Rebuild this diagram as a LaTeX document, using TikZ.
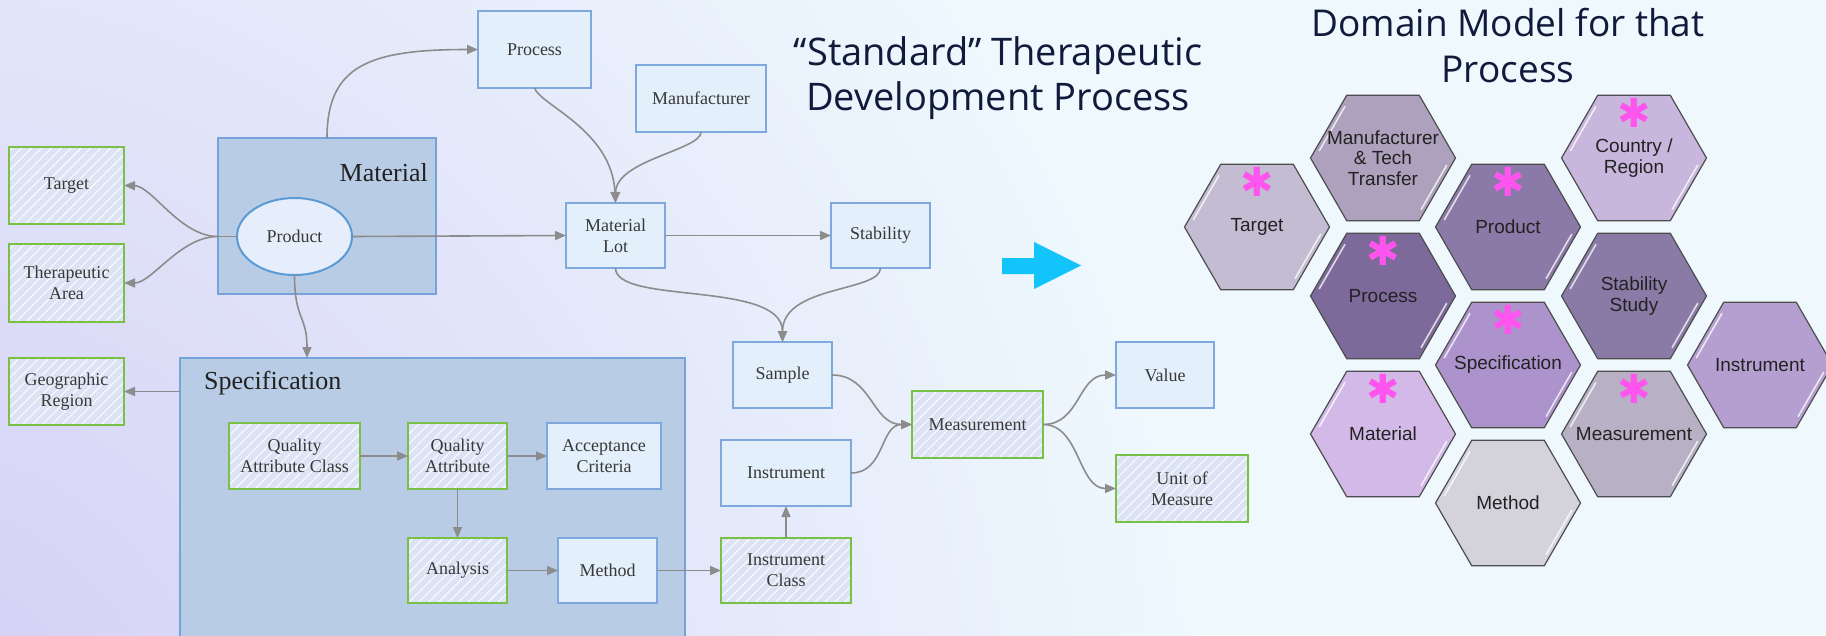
\documentclass[tikz,border=0pt]{standalone}
\usepackage{fontspec}
\setmainfont{Liberation Serif}
\newfontfamily\hexfamily{Liberation Sans}
\newfontfamily\titlefamily{Open Sans}
\newfontfamily\starfamily{DejaVu Sans}
\usetikzlibrary{shapes.geometric,arrows.meta,patterns.meta,calc}
\definecolor{bgmain}{HTML}{EEF8FD}
\definecolor{bglav}{HTML}{D3CDF5}
\definecolor{boxblue}{HTML}{7FA8DE}
\definecolor{boxfill}{HTML}{E3F0FB}
\definecolor{boxgreen}{HTML}{78C144}
\definecolor{hatchbg}{HTML}{DCE3F4}
\definecolor{contblue}{HTML}{75A3DA}
\definecolor{contfill}{HTML}{B8CCE5}
\definecolor{ellfill}{HTML}{E5EEFA}
\definecolor{ellblue}{HTML}{5B9BD5}
\definecolor{edgegray}{HTML}{8C8C8C}
\definecolor{boxtext}{HTML}{383838}
\definecolor{bigtext}{HTML}{222222}
\definecolor{titlecol}{HTML}{101A3A}
\definecolor{arrowcyan}{HTML}{13C4FB}
\definecolor{hexborder}{HTML}{4D4D4D}
\definecolor{hextxt}{HTML}{222222}
\definecolor{starpink}{HTML}{FF55EE}
\definecolor{hTarget}{HTML}{C4BCD2}
\definecolor{hMfr}{HTML}{ADA1BD}
\definecolor{hProduct}{HTML}{8B79A7}
\definecolor{hCountry}{HTML}{C8B6DC}
\definecolor{hProcess}{HTML}{7D699A}
\definecolor{hStab}{HTML}{8A7BA6}
\definecolor{hSpec}{HTML}{AD93CC}
\definecolor{hInstr}{HTML}{B59FD1}
\definecolor{hMat}{HTML}{D3B9E7}
\definecolor{hMeas}{HTML}{B8B1C6}
\definecolor{hMethod}{HTML}{D4D3DB}
\newcommand\lbfont{\fontsize{18}{21}\selectfont}
\newcommand\hexcell[5]{%
  \node[hexa, fill=#4] (#1) at (#2,#3) {};
  \draw[hexhl] ($(#1.center)+(-38.2,-51.4)$) -- ($(#1.center)+(-63.6,-7.4)$);
  \draw[hexhl] ($(#1.center)+(38.2,51.4)$) -- ($(#1.center)+(63.6,7.4)$);
  \node[hextext] at (#1.center) {#5};
}
\newcommand\hexast[1]{\node[hexstar] at ($(#1.center)+(0,-45)$) {✱};}
\begin{document}
\begin{tikzpicture}[x=1pt, y=-1pt,
  box/.style={rectangle, align=center, inner sep=0pt, outer sep=0pt, font=\lbfont, text=boxtext},
  bluebox/.style={box, draw=boxblue, line width=1.8pt, fill=boxfill},
  greenbox/.style={box, draw=boxgreen, line width=2.4pt, preaction={fill=hatchbg},
    pattern={Lines[angle=45,distance=7pt,line width=0.9pt]}, pattern color=white},
  container/.style={rectangle, draw=contblue, line width=2pt, fill=contfill, inner sep=0pt, outer sep=0pt},
  conn/.style={draw=edgegray, line width=1.6pt, -{Triangle[length=11pt,width=9pt]}},
  plainconn/.style={draw=edgegray, line width=1.6pt},
  biglabel/.style={inner sep=0pt, font=\fontsize{26}{30}\selectfont, text=bigtext},
  titletext/.style={inner sep=0pt, font=\titlefamily\fontsize{37}{46}\selectfont, text=titlecol, anchor=base},
  hexa/.style={regular polygon, regular polygon sides=6, minimum size=145pt, inner sep=0pt, outer sep=0pt, draw=hexborder, line width=1.2pt},
  hextext/.style={inner sep=0pt, align=center, font=\hexfamily\fontsize{19}{20.5}\selectfont, text=hextxt},
  hexstar/.style={inner sep=0pt, anchor=center, font=\starfamily\bfseries\fontsize{40}{40}\selectfont, text=starpink},
  hexhl/.style={draw=white, line width=1.6pt, line cap=round, opacity=0.75}
]
\useasboundingbox (0,0) rectangle (1826,635);
% background
\begin{scope}
  \clip (0,0) rectangle (1826,635);
  \fill[bgmain] (0,0) rectangle (1826,635);
  \shade[inner color=bglav, outer color=bgmain] (-100,760) circle (1300);
\end{scope}

% containers
\node[container, minimum width=218pt, minimum height=156pt] (material) at (327,216) {};
\node[container, minimum width=505pt, minimum height=284pt] (spec) at (432.5,500) {};
\node[biglabel, anchor=east] (matlabel) at (428,173) {Material};
\node[biglabel, anchor=west] (speclabel) at (204,383) {Specification};

% left boxes
\node[greenbox, minimum width=115pt, minimum height=77pt] (target) at (66.5,185.5) {Target};
\node[greenbox, minimum width=115pt, minimum height=78pt] (thera) at (66.5,283) {Therapeutic\\Area};
\node[greenbox, minimum width=115pt, minimum height=67pt] (geo) at (66.5,391.5) {Geographic\\Region};
\node[ellipse, draw=ellblue, line width=2pt, fill=ellfill, minimum width=115pt, minimum height=77pt, inner sep=0pt, outer sep=0pt, font=\lbfont, text=boxtext] (product) at (294.5,236.5) {Product};
\node[bluebox, minimum width=113pt, minimum height=77pt] (process) at (534.5,49.5) {Process};
\node[bluebox, minimum width=130pt, minimum height=67pt] (manufacturer) at (701,98.5) {Manufacturer};
\node[bluebox, minimum width=99pt, minimum height=65pt] (lot) at (615.5,235.5) {Material\\Lot};
\node[bluebox, minimum width=99pt, minimum height=65pt] (stability) at (880.5,235.5) {Stability};
\node[greenbox, minimum width=131pt, minimum height=66pt] (qac) at (294.5,456) {Quality\\Attribute Class};
\node[greenbox, minimum width=99pt, minimum height=66pt] (qa) at (457.5,456) {Quality\\Attribute};
\node[bluebox, minimum width=114pt, minimum height=66pt] (ac) at (604,456) {Acceptance\\Criteria};
\node[greenbox, minimum width=99pt, minimum height=65pt] (analysis) at (457.5,570.5) {Analysis};
\node[bluebox, minimum width=99pt, minimum height=65pt] (method) at (607.5,570.5) {Method};
\node[bluebox, minimum width=99pt, minimum height=66pt] (sample) at (782.5,375) {Sample};
\node[bluebox, minimum width=130pt, minimum height=66pt] (instrument) at (786,473) {Instrument};
\node[greenbox, minimum width=130pt, minimum height=65pt] (iclass) at (786,570.5) {Instrument\\Class};
\node[greenbox, minimum width=131pt, minimum height=67pt] (measurement) at (977.5,424.5) {Measurement};
\node[bluebox, minimum width=98pt, minimum height=66pt] (value) at (1165,375) {Value};
\node[greenbox, minimum width=132pt, minimum height=67pt] (uom) at (1182,488.5) {Unit of\\Measure};

\coordinate (pj) at (material.west |- product.west);
\coordinate (specin) at ($(spec.north west)+(127,0)$);

% connectors
\draw[conn] (material.north) .. controls (327,65) and (370,49.5) .. (process.west);
\draw[conn] (process.south) .. controls (540,105) and (612,130) .. (lot.north);
\draw[conn] (manufacturer.south) .. controls (701,150) and (616,160) .. (lot.north);
\draw[conn] (product.east) -- (lot.west);
\draw[conn] (lot.east) -- (stability.west);
\draw[conn] (lot.south) .. controls (615.5,305) and (782.5,280) .. (sample.north);
\draw[conn] (stability.south) .. controls (880.5,292) and (782.5,285) .. (sample.north);
\draw[conn] (sample.east) .. controls (872,375) and (872,424.5) .. (measurement.west);
\draw[conn] (instrument.east) .. controls (885,473) and (880,424.5) .. (measurement.west);
\draw[conn] (measurement.east) .. controls (1080,424.5) and (1078,375) .. (value.west);
\draw[conn] (measurement.east) .. controls (1080,424.5) and (1078,488.5) .. (uom.west);
\draw[plainconn] (product.west) -- (pj);
\draw[conn] (pj) .. controls (180,236.5) and (152,186) .. (target.east);
\draw[conn] (pj) .. controls (180,236.5) and (152,283) .. (thera.east);
\draw[conn] (product.south) .. controls (294.5,320) and (307,315) .. (specin);
\draw[conn] (spec.west |- geo.east) -- (geo.east);
\draw[conn] (qac.east) -- (qa.west);
\draw[conn] (qa.east) -- (ac.west);
\draw[conn] (qa.south) -- (analysis.north);
\draw[conn] (analysis.east) -- (method.west);
\draw[conn] (method.east) -- (iclass.west);
\draw[conn] (iclass.north) -- (instrument.south);

% titles
\node[titletext, font=\titlefamily\fontsize{38}{46}\selectfont] (t1a) at (998,65) {“Standard” Therapeutic};
\node[titletext, font=\titlefamily\fontsize{38}{46}\selectfont] (t1b) at (998,110) {Development Process};
\node[titletext] (t2a) at (1508,36) {Domain Model for that};
\node[titletext] (t2b) at (1508,82) {Process};

% big arrow
\fill[arrowcyan] (1002,258) -- (1034,258) -- (1034,242) -- (1081,265.5) -- (1034,289) -- (1034,274) -- (1002,274) -- cycle;

% hexagons
\hexcell{hxTarget}{1257}{227}{hTarget}{Target}
\hexcell{hxMfr}{1383}{158}{hMfr}{Manufacturer\\\& Tech\\Transfer}
\hexcell{hxProduct}{1508}{227}{hProduct}{Product}
\hexcell{hxCountry}{1634}{158}{hCountry}{Country /\\Region}
\hexcell{hxProcess}{1383}{296}{hProcess}{Process}
\hexcell{hxStab}{1634}{296}{hStab}{Stability\\Study}
\hexcell{hxSpec}{1508}{365}{hSpec}{Specification}
\hexcell{hxInstr}{1760}{365}{hInstr}{Instrument}
\hexcell{hxMat}{1383}{434}{hMat}{Material}
\hexcell{hxMeas}{1634}{434}{hMeas}{Measurement}
\hexcell{hxMethod}{1508}{503}{hMethod}{Method}
\hexast{hxTarget}
\hexast{hxProduct}
\hexast{hxCountry}
\hexast{hxProcess}
\hexast{hxSpec}
\hexast{hxMat}
\hexast{hxMeas}
\end{tikzpicture}
\end{document}
